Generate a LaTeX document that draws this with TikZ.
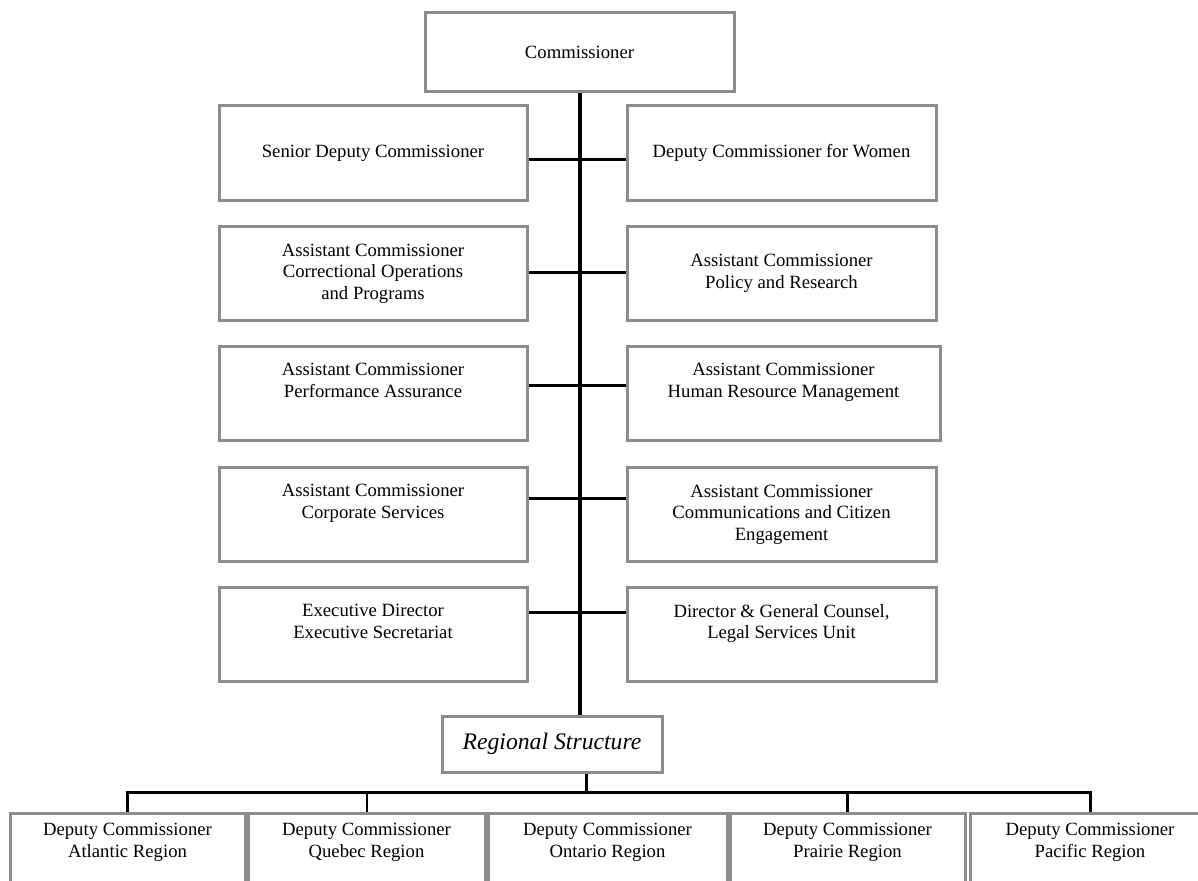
\documentclass[tikz,border=0pt]{standalone}
\usepackage{fontspec}
\setmainfont{Liberation Serif}
\definecolor{boxgray}{RGB}{140,140,140}
\newcommand{\orgfont}{\fontsize{18.7}{21.5}\selectfont}
\tikzset{
  box/.style={draw=boxgray, line width=3pt, align=center, inner sep=2pt, font=\orgfont, minimum height=94pt},
  lbox/.style={box, minimum width=308pt},
  rbox/.style={box, minimum width=309pt},
  raised/.style={text depth=26pt},
  regbox/.style={box, minimum height=0pt, anchor=north, inner ysep=10pt, text depth=60pt},
  link/.style={line width=3pt},
  spine/.style={line width=4pt},
}

\begin{document}
\begin{tikzpicture}[x=1pt,y=-1pt]
\useasboundingbox (0,0) rectangle (1198,880);
\clip (0,0) rectangle (1198,880);

% Top
\node[box, minimum width=309pt, minimum height=79pt] (commish) at (579.5,52.5) {Commissioner};

% Headquarters, left column
\node[lbox] (l1) at (373,153) {Senior Deputy Commissioner};
\node[lbox] (l2) at (373,273.5) {Assistant Commissioner\\Correctional Operations\\and Programs};
\node[lbox, raised] (l3) at (373,393.5) {Assistant Commissioner\\Performance Assurance};
\node[lbox, raised] (l4) at (373,514.5) {Assistant Commissioner\\Corporate Services};
\node[lbox, raised] (l5) at (373,634.5) {Executive Director\\Executive Secretariat};

% Headquarters, right column
\node[rbox] (r1) at (781.5,153) {Deputy Commissioner for Women};
\node[rbox] (r2) at (781.5,273.5) {Assistant Commissioner\\Policy and Research};
\node[rbox, raised, minimum width=313pt] (r3) at (783.5,393.5) {Assistant Commissioner\\Human Resource Management};
\node[rbox] (r4) at (781.5,514.5) {Assistant Commissioner\\Communications and Citizen\\Engagement};
\node[rbox, raised] (r5) at (781.5,634.5) {Director \& General Counsel,\\Legal Services Unit};

% Regions
\node[box, minimum width=220pt, minimum height=56pt, font=\fontsize{23.7}{27}\selectfont\itshape] (region) at (552,744) {Regional Structure};
\node[regbox, minimum width=235pt] (atl) at (127.5,812) {Deputy Commissioner\\Atlantic Region};
\node[regbox, minimum width=237pt] (que) at (366.5,812) {Deputy Commissioner\\Quebec Region};
\node[regbox, minimum width=239pt] (ont) at (607.5,812) {Deputy Commissioner\\Ontario Region};
\node[regbox, minimum width=235pt] (pra) at (847.5,812) {Deputy Commissioner\\Prairie Region};
\node[regbox, minimum width=240pt] (pac) at (1090,812) {Deputy Commissioner\\Pacific Region};

% Lines
\draw[spine] (commish.south) -- (commish.south |- region.north);
\foreach \r/\y in {1/159,2/272,3/385,4/498,5/612} {
  \coordinate (j\r) at (579.5,\y);
  \draw[link] (j\r -| l\r.east) -- (j\r -| r\r.west);
}
\coordinate (bus) at (586,792);
\draw[link] (bus |- region.south) -- (bus);
\draw[link] (atl.north) -- (atl.north |- bus) -- (pac.north |- bus) -- (pac.north);
\draw[link] (pra.north |- bus) -- (pra.north);
\draw[line width=2pt] (que.north |- bus) -- (que.north);
\end{tikzpicture}
\end{document}
